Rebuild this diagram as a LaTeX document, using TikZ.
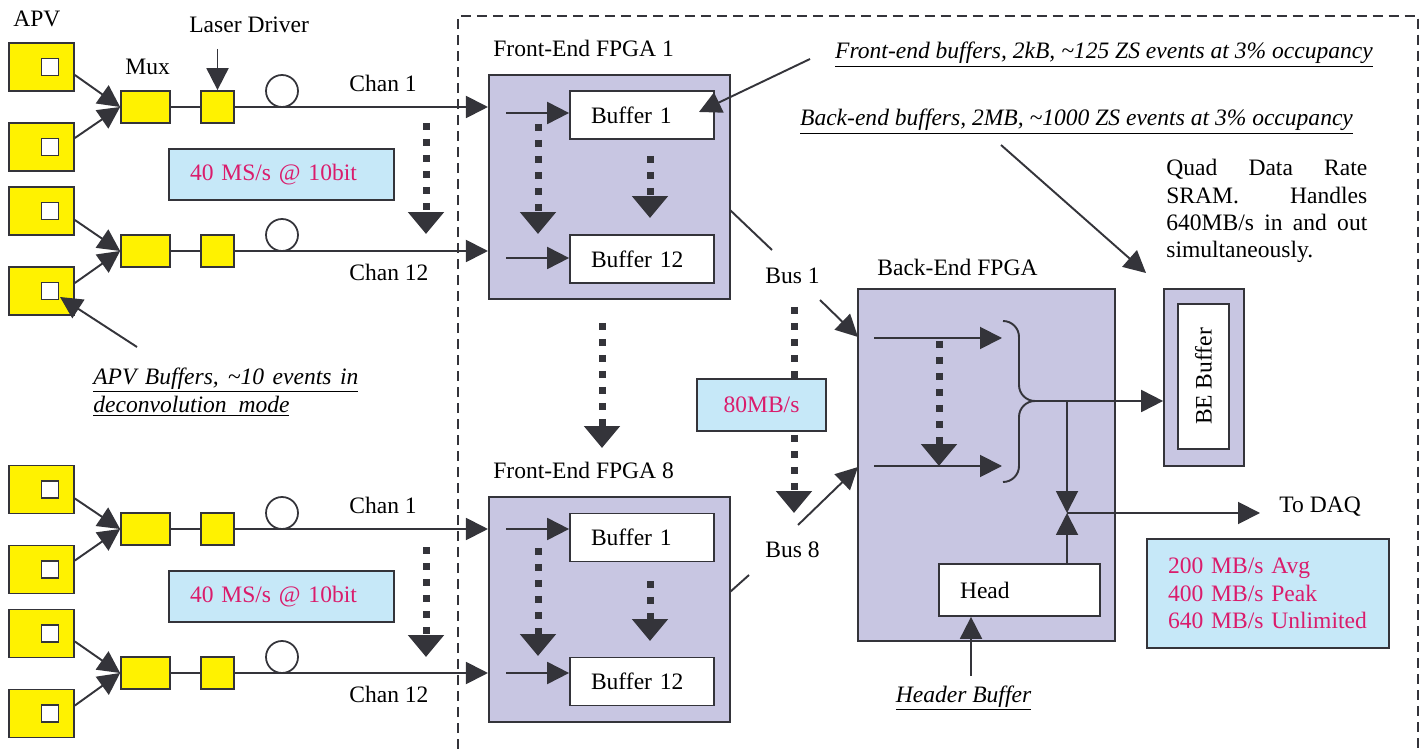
\documentclass[tikz,border=0pt]{standalone}
\usepackage{fontspec}
\setmainfont{Liberation Serif}
\usetikzlibrary{arrows.meta,positioning,calc}

\definecolor{apvyellow}{RGB}{255,242,0}
\definecolor{fpgalilac}{RGB}{200,198,226}
\definecolor{rateblue}{RGB}{198,232,248}
\definecolor{ratepink}{RGB}{218,28,108}
\definecolor{linegray}{RGB}{52,52,58}

\begin{document}
\begin{tikzpicture}[
    x=0.02cm, y=-0.02cm,
    font=\fontsize{13.4}{16}\selectfont,
    % Define styles
    apv/.style={
        rectangle,
        draw=linegray,
        line width=1pt,
        fill=apvyellow,
        minimum width=1.3cm,
        minimum height=0.96cm,
        inner sep=0
    },
    chip/.style={
        rectangle,
        draw=linegray,
        line width=1pt,
        fill=white,
        minimum size=0.34cm,
        inner sep=0
    },
    mux/.style={apv, minimum width=0.98cm, minimum height=0.64cm},
    laser/.style={apv, minimum width=0.66cm, minimum height=0.64cm},
    fibre/.style={
        circle,
        draw=linegray,
        line width=1pt,
        fill=white,
        minimum size=0.64cm,
        inner sep=0
    },
    fpga/.style={
        rectangle,
        draw=linegray,
        line width=1.2pt,
        fill=fpgalilac,
        inner sep=0
    },
    buffer/.style={
        rectangle,
        draw=linegray,
        line width=1pt,
        fill=white,
        text width=2.04cm,
        minimum height=0.96cm,
        inner xsep=0.42cm,
        inner ysep=0,
        align=left
    },
    ratebox/.style={
        rectangle,
        draw=linegray,
        line width=1pt,
        fill=rateblue,
        text=ratepink,
        inner xsep=0.42cm,
        inner ysep=0,
        align=left
    },
    plain/.style={inner sep=0, anchor=west},
    note/.style={inner sep=0, font=\fontsize{13.4}{16}\selectfont\itshape},
    arrow/.style={
        -{Triangle[length=0.44cm,width=0.44cm]},
        line width=1.1pt,
        draw=linegray
    },
    flow/.style={
        -{Triangle[length=0.44cm,width=0.7cm]},
        line width=0.14cm,
        dash pattern=on 0.14cm off 0.18cm,
        draw=linegray
    },
    link/.style={line width=1.1pt, draw=linegray},
    frame/.style={line width=0.8pt, dash pattern=on 0.2cm off 0.12cm, draw=linegray}
]

\useasboundingbox (0,0) rectangle (1426,749);

% Crate boundary
\draw[frame] (458,749) -- (458,16) -- (1418,16) -- (1418,749);

% Upper APV group
\node[plain] (apvtitle) at (13,19) {APV};
\node[apv] (apv1) at (41.5,67) {};
\node[chip] (chip1) at ([xshift=0.17cm]apv1.center) {};
\node[apv] (apv2) at (41.5,147) {};
\node[chip] (chip2) at ([xshift=0.17cm]apv2.center) {};
\node[apv] (apv3) at (41.5,211) {};
\node[chip] (chip3) at ([xshift=0.17cm]apv3.center) {};
\node[apv] (apv4) at (41.5,291) {};
\node[chip] (chip4) at ([xshift=0.17cm]apv4.center) {};

\node[plain] (muxtitle) at (125,67) {Mux};
\node[mux] (mux1) at (145.5,107) {};
\node[mux] (mux2) at (145.5,251) {};
\node[plain] (ldtitle) at (189,25) {Laser Driver};
\node[laser] (ld1) at (217.5,107) {};
\node[laser] (ld2) at (217.5,251) {};

% Lower APV group
\node[apv] (apv5) at (41.5,489.5) {};
\node[chip] (chip5) at ([xshift=0.17cm]apv5.center) {};
\node[apv] (apv6) at (41.5,569.5) {};
\node[chip] (chip6) at ([xshift=0.17cm]apv6.center) {};
\node[apv] (apv7) at (41.5,633.5) {};
\node[chip] (chip7) at ([xshift=0.17cm]apv7.center) {};
\node[apv] (apv8) at (41.5,713.5) {};
\node[chip] (chip8) at ([xshift=0.17cm]apv8.center) {};

\node[mux] (mux3) at (145.5,529) {};
\node[mux] (mux4) at (145.5,673) {};
\node[laser] (ld3) at (217.5,529) {};
\node[laser] (ld4) at (217.5,673) {};

% Front-end FPGAs
\node[plain] (fe1title) at (493,48) {Front-End FPGA 1};
\node[fpga, minimum width=4.82cm, minimum height=4.48cm] (fe1) at (609.5,187) {};
\node[buffer] (buf1a) at (642,115) {Buffer 1};
\node[buffer] (buf12a) at (642,259) {Buffer 12};

\node[plain] (fe8title) at (493,470) {Front-End FPGA 8};
\node[fpga, minimum width=4.82cm, minimum height=4.5cm] (fe8) at (609.5,609.5) {};
\node[buffer] (buf1b) at (642,537.5) {Buffer 1};
\node[buffer] (buf12b) at (642,681.5) {Buffer 12};

% APV to Mux
\draw[arrow] ($(apv1.east)+(0,8)$) -- (mux1.west);
\draw[arrow] ($(apv2.east)+(0,-9)$) -- (mux1.west);
\draw[arrow] ($(apv3.east)+(0,9)$) -- (mux2.west);
\draw[arrow] ($(apv4.east)+(0,-8)$) -- (mux2.west);
\draw[arrow] ($(apv5.east)+(0,9)$) -- (mux3.west);
\draw[arrow] ($(apv6.east)+(0,-9)$) -- (mux3.west);
\draw[arrow] ($(apv7.east)+(0,8)$) -- (mux4.west);
\draw[arrow] ($(apv8.east)+(0,-8)$) -- (mux4.west);

% Mux to laser driver
\draw[link] (mux1) -- (ld1);
\draw[link] (mux2) -- (ld2);
\draw[link] (mux3) -- (ld3);
\draw[link] (mux4) -- (ld4);
\coordinate (ldin) at (217.5,49);
\draw[arrow] (ldin) -- (ld1);

% Optical channels
\draw[arrow] (ld1) -- (ld1 -| fe1.west);
\draw[arrow] (ld2) -- (ld2 -| fe1.west);
\draw[arrow] (ld3) -- (ld3 -| fe8.west);
\draw[arrow] (ld4) -- (ld4 -| fe8.west);
\node[fibre] (fib1) at (282,91) {};
\node[fibre] (fib2) at (282,235) {};
\node[fibre] (fib3) at (282,513) {};
\node[fibre] (fib4) at (282,657) {};
\node[plain] (chan1a) at (349,83) {Chan 1};
\node[plain] (chan12a) at (349,272) {Chan 12};
\node[plain] (chan1b) at (349,505) {Chan 1};
\node[plain] (chan12b) at (349,694) {Chan 12};

% Sample rate boxes
\node[ratebox, text width=3.66cm, minimum height=1.02cm] (rate40a) at (281.5,174.5) {40 MS/s @ 10bit};
\node[ratebox, text width=3.66cm, minimum height=1.02cm] (rate40b) at (281.5,596.5) {40 MS/s @ 10bit};

% Channel fan-out
\draw[flow] (426,123) -- (426,234);
\draw[flow] (426,547) -- (426,657);

% Inside the front-end FPGAs
\coordinate (in1a) at (506,113);
\coordinate (in12a) at (506,258);
\coordinate (in1b) at (506,529);
\coordinate (in12b) at (506,673);
\draw[arrow] (in1a) -- (in1a -| buf1a.west);
\draw[arrow] (in12a) -- (in12a -| buf12a.west);
\draw[arrow] (in1b) -- (in1b -| buf1b.west);
\draw[arrow] (in12b) -- (in12b -| buf12b.west);
\draw[flow] (538,124) -- (538,234);
\draw[flow] (650,156) -- (650,218);
\draw[flow] (538,548) -- (538,656);
\draw[flow] (650,581) -- (650,641);
\draw[flow] (602,323) -- (602,448);

% Buses to the back-end FPGA
\node[fpga, minimum width=5.14cm, minimum height=7.04cm] (be) at (986.5,465) {};
\node[plain] (betitle) at (877,267) {Back-End FPGA};
\coordinate (bus1a) at (730,210);
\coordinate (bus1b) at (772,250);
\coordinate (bus1c) at (820,300);
\coordinate (be1in) at (858,337);
\draw[link] (bus1a) -- (bus1b);
\draw[arrow] (bus1c) -- (be1in);
\node[plain] (bus1) at (765,276) {Bus 1};
\coordinate (bus8a) at (730,592);
\coordinate (bus8b) at (749,575);
\coordinate (bus8c) at (798,525);
\coordinate (be8in) at (858,467);
\draw[link] (bus8a) -- (bus8b);
\draw[arrow] (bus8c) -- (be8in);
\node[plain] (bus8) at (765,550) {Bus 8};
\draw[flow] (794,307) -- (794,513);
\node[ratebox, align=center, text width=1.74cm, minimum height=1.04cm] (rate80) at (761.5,405) {80MB/s};

% Inside the back-end FPGA
\coordinate (bein1) at (874,338);
\coordinate (bein8) at (874,466);
\draw[arrow] (bein1) -- (1002,338);
\draw[arrow] (bein8) -- (1002,466);
\draw[flow] (939,341) -- (939,466);
\draw[link] (1003,321) to[out=0,in=90] (1019,337) -- (1019,385) to[out=-90,in=180] (1035,401)
    to[out=180,in=90] (1019,417) -- (1019,466) to[out=-90,in=0] (1003,482);
\coordinate (merge) at (1035,401);
\coordinate (split) at (1067,401);
\coordinate (join) at (1067,513);

% BE buffer
\node[fpga, line width=1pt, minimum width=1.6cm, minimum height=3.54cm] (bebuf) at (1204,377.5) {};
\node[rectangle, draw=linegray, line width=1pt, fill=white, minimum width=1.02cm, minimum height=2.9cm,
    inner sep=0] (bebufin) at (1203.5,376.5) {\rotatebox{90}{BE Buffer}};
\draw[arrow] (merge) -- (merge -| bebuf.west);

% Header and output
\node[buffer, text width=2.38cm, minimum height=1.04cm] (head) at (1019.5,590) {Head};
\draw[arrow] (split) -- (join);
\draw[arrow] (head.north -| join) -- (join);
\coordinate (daqend) at (1260,513);
\draw[arrow] (join) -- (daqend);
\node[plain] (todaq) at (1279,507) {To DAQ};
\node[ratebox, text width=4.0cm, minimum height=2.18cm, font=\fontsize{13.4}{15.6}\selectfont]
    (ratedaq) at (1268,593.5) {200 MB/s Avg\\400 MB/s Peak\\640 MB/s Unlimited};
\node[note] (hdrnote) at (963.5,698) {\underline{Header Buffer}};
\coordinate (hdrtop) at (971,676);
\draw[arrow] (hdrtop) -- (hdrtop |- head.south);

% Annotations
\node[note] (fenote) at (1104,55) {\underline{Front-end buffers, 2kB, \textasciitilde125 ZS events at 3\% occupancy}};
\coordinate (fenoteend) at (810,59);
\draw[arrow] (fenoteend) -- (699,112);

\node[note] (benote) at (1076.5,122) {\underline{Back-end buffers, 2MB, \textasciitilde1000 ZS events at 3\% occupancy}};
\coordinate (benoteend) at (1001,145);
\draw[arrow] (benoteend) -- (1146,273);

\node[note, anchor=west, align=left] (apvnote) at (93,392)
    {\underline{\makebox[5.3cm][s]{APV Buffers, \textasciitilde10 events in}}\\\underline{deconvolution\ \ mode}};
\coordinate (apvnoteend) at (137,347);
\draw[arrow] (apvnoteend) -- (60,297);

\node[plain, align=left, font=\fontsize{13.4}{15.5}\selectfont] (qdrnote) at (1166,211)
    {\makebox[4.02cm][s]{Quad Data Rate}\\\makebox[4.02cm][s]{SRAM. Handles}\\\makebox[4.02cm][s]{640MB/s in and out}\\simultaneously.};

\end{tikzpicture}
\end{document}
